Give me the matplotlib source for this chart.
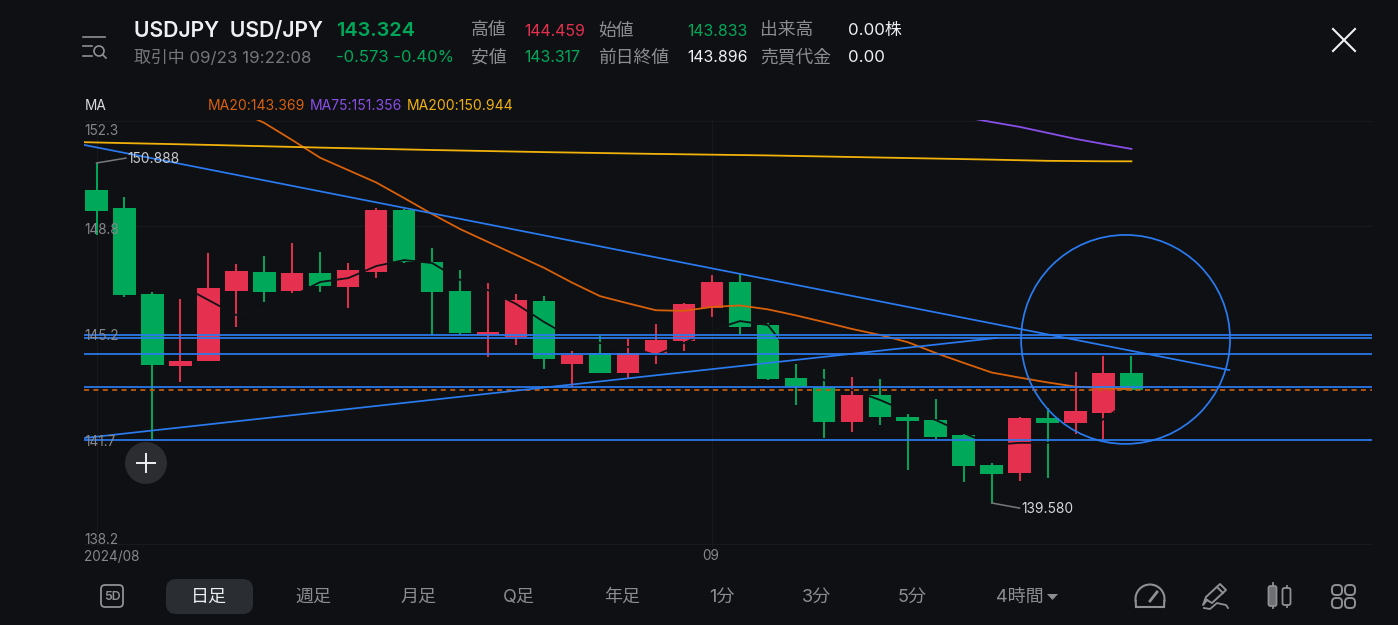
import matplotlib
matplotlib.use("Agg")
import matplotlib.pyplot as plt
from matplotlib.patches import Ellipse, FancyBboxPatch, Circle, Polygon, Arc

plt.rcParams['font.family'] = ['Inter', 'Noto Sans CJK JP', 'DejaVu Sans']

# ---- data -----
opens  = [149.99,149.40,146.53,144.14,144.30,146.63,147.26,146.62,147.22,146.77,147.25,149.32,147.58,146.62,145.17,145.11,146.30,144.19,144.56,143.91,144.58,144.98,146.06,146.92,145.49,143.74,143.45,142.26,143.18,142.45,142.33,141.83,140.85,140.58,142.42,142.23,142.58,143.90]
closes = [149.28,146.50,144.17,144.31,146.74,147.29,146.60,147.22,146.81,147.33,149.31,147.58,146.59,145.23,145.28,146.32,144.37,144.51,143.91,144.58,145.00,146.20,146.92,145.43,143.69,143.45,142.26,143.16,142.44,142.31,141.77,140.81,140.55,142.40,142.23,142.63,143.90,143.324]
highs  = [150.888,149.77,146.61,146.35,147.88,147.53,147.80,148.22,147.94,147.57,149.38,149.35,148.05,147.33,146.89,146.52,146.46,144.65,145.13,145.02,145.54,146.24,147.16,147.22,145.56,144.20,144.04,143.78,143.69,142.53,143.03,141.87,140.90,142.45,142.73,143.93,144.48,144.459]
lows   = [148.49,146.42,141.67,143.61,144.30,145.42,146.25,146.57,146.59,146.07,147.05,147.56,145.17,145.17,144.45,144.83,144.04,143.45,143.90,143.69,144.20,144.63,145.76,145.17,143.68,142.84,141.75,141.95,142.18,140.69,141.71,140.27,139.58,140.30,140.42,141.87,141.71,143.317]

ma20_idx = list(range(5, 38))
ma20 = [152.65,152.22,151.65,151.06,150.65,150.24,149.72,149.19,148.69,148.26,147.83,147.40,146.91,146.46,146.22,145.99,145.97,146.10,146.15,146.02,145.82,145.60,145.37,145.17,144.93,144.57,144.24,143.92,143.75,143.59,143.45,143.40,143.369]
ma75_idx = [31,32,33,34,35,36,37]
ma75 = [152.42,152.25,152.09,151.89,151.69,151.52,151.356]
ma200_idx = [-0.45,0,4,8,12,16,20,24,28,32,34,36,37]
ma200 = [151.58,151.57,151.49,151.40,151.32,151.25,151.19,151.14,151.07,151.00,150.96,150.945,150.944]
ma5_idx = list(range(3, 38))
ma5 = [146.83,146.33,145.83,146.00,146.46,146.93,147.06,147.46,147.66,147.56,147.00,146.66,146.20,145.60,145.07,144.90,144.77,144.50,144.90,145.33,145.63,145.50,144.34,143.67,143.34,143.01,142.61,142.34,141.91,141.51,141.58,141.58,141.74,142.37,143.01]

level_lines = [145.17,145.06,144.53,143.43,141.68]
last_price = 143.324
trend_down = ([-0.45,40.5],[151.49,144.00])
trend_up = ([-0.45,32.18],[141.74,145.07])
circle_center = (36.79,145.02)
circle_size = (7.47,6.95)

y_ticks = [152.3,148.8,145.2,141.7,138.2]

BG = '#0e1014'
GREEN = '#00a85a'
RED = '#e5304f'
BLUE = '#2a7bf0'
ORANGE = '#d9600a'
PURPLE = '#8a4fe8'
YELLOW = '#f2b20c'
GRAY = '#8b8d91'
WHITE = '#eef0f2'

W, H = 1398, 625
fig = plt.figure(figsize=(W/100, H/100), dpi=100, facecolor=BG)

# ---- chart area -----
L, R, T, B = 84, 1372, 120, 547
ax = fig.add_axes([L/W, 1-B/H, (R-L)/W, (B-T)/H], facecolor=BG)
ax.set_xlim(-0.447, 45.6)
ax.set_ylim(138.116, 152.318)
for s in ax.spines.values():
    s.set_visible(False)
ax.set_xticks([]); ax.set_yticks([])
for t in y_ticks:
    ax.axhline(t, color='#17191d', lw=0.8, zorder=0)
for v in [0, 22]:
    ax.axvline(v, color='#17191d', lw=0.8, zorder=0)

for i, (o, c, h, l) in enumerate(zip(opens, closes, highs, lows)):
    col = RED if c > o else GREEN
    ax.vlines(i, l, h, color=col, lw=1.4, zorder=2)
    ax.bar(i, abs(c-o), bottom=min(o, c), width=0.80, color=col, linewidth=0, zorder=3)

ax.plot(ma5_idx, ma5, color='#101216', lw=1.3, zorder=4)
ax.plot(ma20_idx, ma20, color=ORANGE, lw=1.3, zorder=5)
ax.plot(ma75_idx, ma75, color=PURPLE, lw=1.3, zorder=5)
ax.plot(ma200_idx, ma200, color=YELLOW, lw=1.3, zorder=5)

ax.axhline(last_price, color='#c25a10', lw=1.3, dashes=(2.8, 2.4), zorder=6)
for y in level_lines:
    ax.axhline(y, color=BLUE, lw=1.25, zorder=7)
ax.plot(*trend_down, color=BLUE, lw=1.25, zorder=7)
ax.plot(*trend_up, color=BLUE, lw=1.25, zorder=7)
ax.add_patch(Ellipse(circle_center, circle_size[0], circle_size[1], fill=False, ec=BLUE, lw=1.25, zorder=7))

# callouts, in data units
ax.plot([0, 0, 1.05], [highs[0], highs[0], 151.05], color='#77797d', lw=1.1, zorder=8)
ax.text(1.11, 151.02, '150.888', color='#c9cbce', fontsize=9.9, va='center', zorder=9)
ax.plot([32, 33.0], [139.58, 139.41], color='#77797d', lw=1.1, zorder=8)
ax.text(33.06, 139.38, '139.580', color='#d5d7da', fontsize=9.9, va='center', zorder=9)

# ---- overlay in pixels -----
ov = fig.add_axes([0, 0, 1, 1], facecolor='none')
ov.set_xlim(0, W); ov.set_ylim(H, 0); ov.axis('off')

def T_(x, y, s, c=GRAY, fs=12.6, ha='left', **kw):
    ov.text(x, y + 1, s, color=c, fontsize=fs, ha=ha, va='center', **kw)

# y tick labels
for t, y in zip(y_ticks, [130, 229, 335, 441, 539]):
    T_(84, y, f'{t:.1f}', c='#85878b', fs=9.8)
T_(84, 556, '2024/08', c='#85878b', fs=9.8)
T_(702, 555, '09', c='#85878b', fs=9.8)

# header
T_(134, 30, 'USDJPY  USD/JPY', c=WHITE, fs=15.2, weight='semibold')
T_(336.5, 30, '143.324', c=GREEN, fs=14.3, weight='semibold')
T_(134, 57, '取引中 09/23 19:22:08', c='#75777b', fs=12.2)
T_(336, 57, '-0.573 -0.40%', c=GREEN, fs=12.0)
for x, y, s, c in [(524, 30, '144.459', RED), (687, 30, '143.833', GREEN), (848, 30, '0.00株', WHITE),
                   (524, 57, '143.317', GREEN), (687, 57, '143.896', WHITE), (848, 57, '0.00', WHITE)]:
    T_(x, y, s, c=c, fs=11.4 if x != 848 else 12.2)
for x, y, s in [(471, 30, '高値'), (598, 30, '始値'), (760, 30, '出来高'),
                (471, 57, '安値'), (598, 57, '前日終値'), (760, 57, '売買代金')]:
    T_(x, y, s, c=GRAY, fs=12.8)

T_(85, 105, 'MA', c='#d8dadc', fs=9.8)
T_(208, 105, 'MA20:143.369', c=ORANGE, fs=10.05)
T_(310, 105, 'MA75:151.356', c=PURPLE, fs=10.05)
T_(407, 105, 'MA200:150.944', c=YELLOW, fs=10.05)

# plus button
ov.add_patch(Circle((146, 463), 21, fc='#2b2d31', ec='none', zorder=9))
ov.plot([137, 155], [463, 463], color=WHITE, lw=1.4, zorder=10)
ov.plot([146, 146], [454, 472], color=WHITE, lw=1.4, zorder=10)

# menu icon
IC = '#8e9094'
ov.plot([83, 105], [37, 37], color=IC, lw=1.2)
ov.plot([83, 92], [46, 46], color=IC, lw=1.2)
ov.plot([83, 92], [56, 56], color=IC, lw=1.2)
ov.add_patch(Circle((99, 51), 5, fill=False, ec=IC, lw=1.2))
ov.plot([103, 106], [55, 58], color=IC, lw=1.2)

# close icon
ov.plot([1333, 1355], [29, 51], color=WHITE, lw=1.5)
ov.plot([1355, 1333], [29, 51], color=WHITE, lw=1.5)

# bottom bar
ov.add_patch(FancyBboxPatch((170, 583), 79, 27, boxstyle='round,pad=0,rounding_size=6', mutation_aspect=1,
                            fc='#2a2d32', ec='#2a2d32', lw=8*0.72))
ov.add_patch(FancyBboxPatch((101, 585), 22, 22, boxstyle='round,pad=0,rounding_size=4',
                            fill=False, ec=IC, lw=1.3))
T_(112, 595.5, '5D', c=IC, fs=8.8, ha='center', weight='semibold')
for x, s, c in [(209, '日足', WHITE), (313, '週足', GRAY), (418, '月足', GRAY), (519, 'Q足', GRAY),
                (622, '年足', GRAY), (722, '1分', GRAY), (816, '3分', GRAY), (912, '5分', GRAY),
                (1020, '4時間', GRAY)]:
    T_(x, 596.5, s, c=c, fs=13, ha='center')
ov.add_patch(Polygon([[1047, 594], [1058, 594], [1052.5, 600]], fc=GRAY, ec='none'))

# gauge icon
ov.add_patch(Arc((1150, 599), 29, 29, theta1=170, theta2=370, ec=IC, lw=1.5))
ov.plot([1136, 1164], [607, 607], color=IC, lw=1.5)
ov.plot([1136, 1135.7], [607, 601], color=IC, lw=1.5)
ov.plot([1164, 1164.3], [607, 601], color=IC, lw=1.5)
ov.plot([1150, 1157], [601, 592], color=IC, lw=2)

# pen icon
ov.plot([1207, 1203, 1206, 1220, 1226, 1212, 1207], [600, 605, 597, 584, 590, 603, 600], color=IC, lw=1.4)
ov.plot([1217, 1223], [587, 593], color=IC, lw=1.4)
ov.plot([1204, 1210, 1217, 1221, 1226, 1228], [608, 609, 603, 604, 605, 608], color=IC, lw=1.3)

# candles icon
for x, y0, y1, b0, b1, hw in [(1272.5, 583, 608, 586, 606, 4), (1286.5, 586, 607, 588, 605, 4)]:
    ov.plot([x, x], [y0, y1], color=IC, lw=1.3)
    ov.add_patch(FancyBboxPatch((x-hw, b0), 2*hw, b1-b0, boxstyle='round,pad=0,rounding_size=2',
                                fc=('#6d6f73' if x < 1280 else BG), ec=IC, lw=1.3, zorder=3))

# grid icon
for cx, cy in [(1337, 590), (1350, 590), (1337, 603), (1350, 603)]:
    ov.add_patch(FancyBboxPatch((cx-5, cy-5), 10, 10, boxstyle='round,pad=0,rounding_size=4',
                                fill=False, ec=IC, lw=1.4))

fig.savefig('out.png', dpi=100, facecolor=BG)
